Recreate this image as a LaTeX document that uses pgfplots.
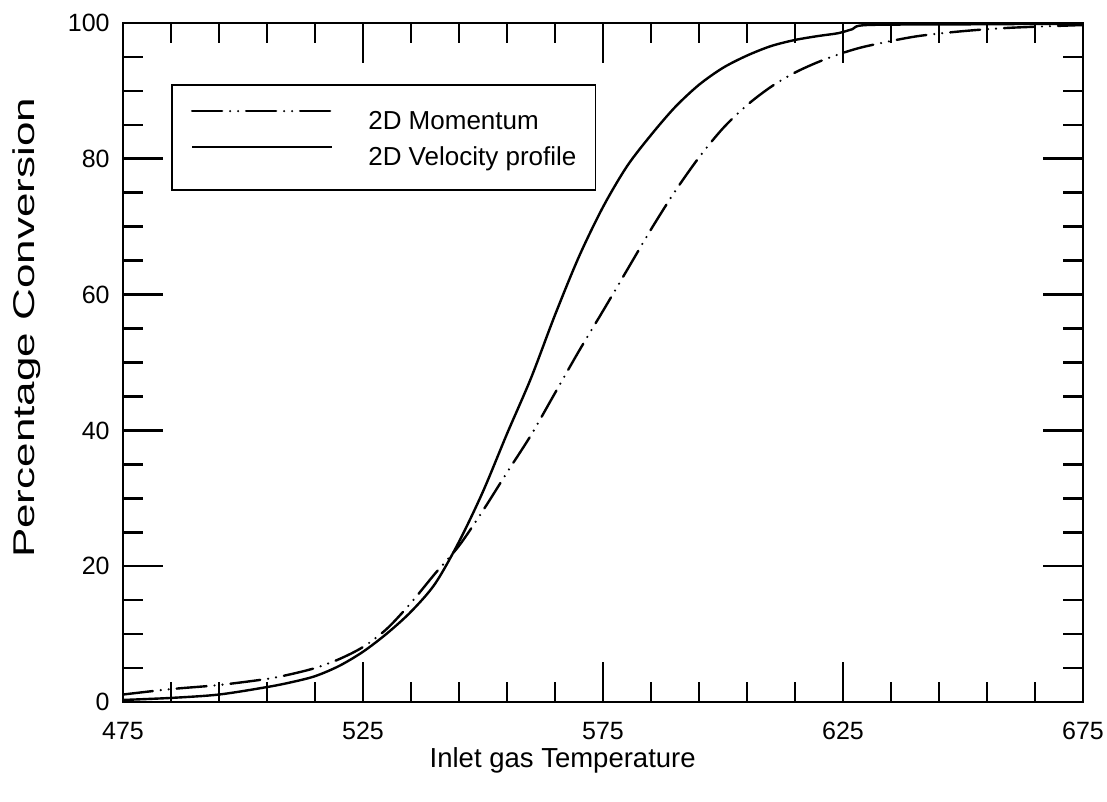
\documentclass[border=0pt]{standalone}
\usepackage{pgfplots}
\pgfplotsset{compat=1.18}
\usepackage{graphicx}
\usepackage{fontspec}
\setmainfont{Liberation Sans}
\begin{document}
\begin{tikzpicture}
\useasboundingbox (-61.5pt,-50pt) rectangle (492pt,351pt);
\begin{axis}[
  at={(0,0)}, anchor=south west,
  scale only axis, width=480pt, height=339.5pt,
  xmin=475, xmax=675, ymin=0, ymax=100,
  xtick={475,525,575,625,675}, ytick={0,20,40,60,80,100},
  minor x tick num=4, minor y tick num=3,
  major tick length=20pt, minor tick length=10pt,
  tick align=inside, tick pos=both,
  axis line style={line width=1pt},
  every tick/.style={black, line width=1.3pt},
  /pgf/number format/assume math mode=true,
  xticklabel style={font=\fontsize{12.5}{14}\selectfont, anchor=base, inner sep=0pt, yshift=-19pt},
  yticklabel style={font=\fontsize{12.5}{14}\selectfont, anchor=east, inner sep=0pt, xshift=-6.5pt},
  every axis x label/.style={at={(axis description cs:0.458,-0.0972)}, anchor=base, font=\fontsize{13.75}{16}\selectfont},
  every axis y label/.style={at={(axis description cs:-0.0917,0.551)}, rotate=90, anchor=base, font=\fontsize{15}{17}\selectfont},
  xlabel={Inlet gas Temperature},
  ylabel={\scalebox{1.467}[1]{Percentage Conversion}},
  legend image code/.code={\draw[#1] (0pt,4.65pt) -- (70pt,4.65pt);},
  legend style={at={(axis cs:485,90.97)}, anchor=north west, draw=black, line width=0.9pt, fill=white,
    inner xsep=9.5pt, inner ysep=12.35pt, column sep=17.5pt, row sep=7.9pt,
    nodes={inner sep=0pt, text height=9.3pt, text depth=0pt, font=\fontsize{13}{15}\selectfont}},
  legend cell align=left,
]
\addplot[black, line width=1.2pt, line cap=round, dash pattern=on 15pt off 4pt on 0pt off 4pt on 0pt off 4pt, smooth] coordinates {
(475,1.1) (485,1.9) (495,2.5) (505,3.4) (510,4.1) (515,5.0) (520,6.3) (525,8.1) (530,10.8) (535,14.6) (540,18.9) (545,23.0) (550,28.2) (555,33.8) (560,39.3) (565,45.5) (570,51.7) (575,57.6) (580,63.6) (585,69.6) (590,75.2) (595,80.2) (600,84.5) (605,87.9) (610,90.6) (615,92.7) (620,94.3) (625,95.6) (630,96.6) (640,98.0) (650,98.8) (660,99.3) (675,99.7)
};
\addlegendentry{2D Momentum}
\addplot[black, line width=1.2pt, solid, smooth] coordinates {
(475,0.3) (485,0.6) (495,1.1) (505,2.2) (510,2.9) (515,3.8) (520,5.3) (525,7.4) (530,10.1) (535,13.3) (540,17.4) (545,23.6) (550,31.0) (555,39.5) (560,47.7) (565,57.0) (570,65.6) (575,72.9) (580,78.9) (585,83.5) (590,87.6) (595,90.9) (600,93.4) (605,95.2) (610,96.6) (615,97.5) (620,98.1) (624,98.5) (627,99.1) (630,99.7) (650,99.8) (675,99.9)
};
\addlegendentry{2D Velocity profile}
\end{axis}
\end{tikzpicture}
\end{document}
